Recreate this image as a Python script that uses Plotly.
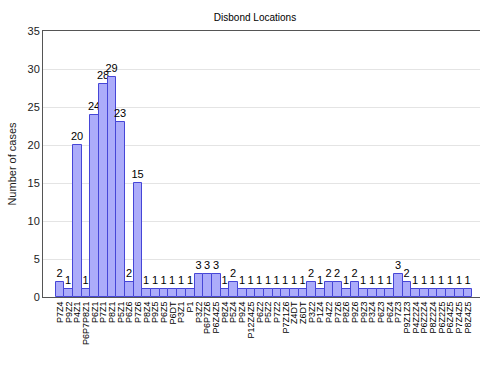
import plotly.graph_objects as go

locations = ["P7Z4", "P9Z2", "P4Z1", "P6P7P8Z1", "P6Z1", "P7Z1", "P8Z1", "P5Z1",
             "P6Z6", "P7Z6", "P8Z4", "P9Z5", "P6Z5", "P6DT", "P3Z1", "P1",
             "P3Z2", "P6P7Z6", "P6Z4Z5", "P8Z4", "P5Z4", "P9Z4", "P12Z4Z5", "P6Z2",
             "P5Z2", "P7Z2", "P7Z1Z6", "Z4DT", "Z6DT", "P3Z2", "P1Z4", "P4Z2",
             "P7Z6", "P8Z6", "P9Z6", "P9Z3", "P3Z4", "P6Z3", "P6Z4", "P7Z3",
             "P9Z1Z3", "P4Z2Z4", "P6Z2Z4", "P8Z2Z4", "P6Z2Z5", "P6Z4Z5", "P7Z4Z5", "P8Z4Z5"]
cases = [2, 1, 20, 1, 24, 28, 29, 23, 2, 15,
         1, 1, 1, 1, 1, 1, 3, 3, 3, 1, 2,
         1, 1, 1, 1, 1, 1, 1, 1, 2, 1, 2, 2, 1, 2,
         1, 1, 1, 1, 3, 2, 1, 1, 1, 1, 1, 1, 1]
y_ticks = [0, 5, 10, 15, 20, 25, 30, 35]

positions = list(range(len(cases)))

fig = go.Figure(go.Bar(
    x=positions, y=cases,
    marker=dict(color="rgb(172,172,250)", line=dict(color="rgb(70,70,215)", width=1)),
    text=[str(v) for v in cases], textposition="outside", cliponaxis=False,
    textfont=dict(family="Liberation Sans", size=11, color="black"),
    width=1.0,
))

fig.update_layout(
    width=480, height=367,
    margin=dict(l=43, r=0, t=31, b=70),
    paper_bgcolor="white", plot_bgcolor="white",
    font=dict(family="Liberation Sans", size=11, color="#222"),
    uniformtext=dict(minsize=11, mode="show"),
    title=dict(text="Disbond Locations", x=255/480, xanchor="center", y=1-17/367, yanchor="middle",
               font=dict(size=10, color="black")),
    bargap=0, showlegend=False,
    xaxis=dict(range=[-1.96, 48.4], tickmode="array", tickvals=positions, ticktext=locations,
               tickangle=-90, tickfont=dict(size=9, color="black"), showgrid=False,
               showline=True, linecolor="#555", linewidth=1, mirror=True,
               ticks="", zeroline=False),
    yaxis=dict(range=[0, 35], tickvals=y_ticks, showgrid=True, gridcolor="#e4e4e4",
               showline=True, linecolor="#555", linewidth=1, mirror=False, ticks="",
               zeroline=False, tickfont=dict(size=11, color="#222"),
               title=dict(text="Number of cases", font=dict(size=11, color="#222"), standoff=8)),
)

fig.write_html("out.html", config={"displayModeBar": False},
               post_script="document.body.style.margin='0';document.body.style.overflow='hidden';")
